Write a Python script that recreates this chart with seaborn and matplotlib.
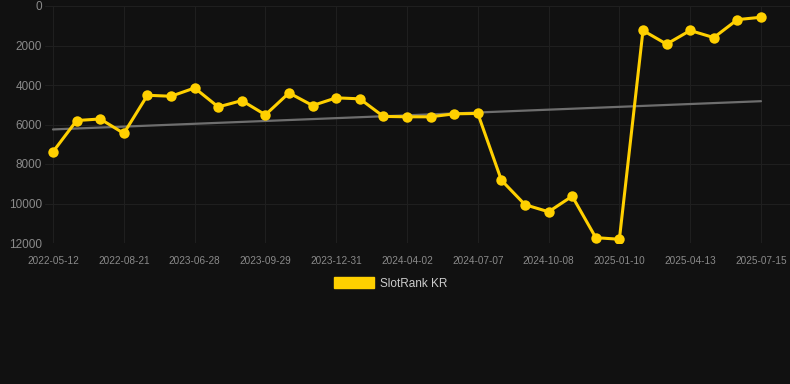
import numpy as np
import pandas as pd
import seaborn as sns
import matplotlib.pyplot as plt
from matplotlib.patches import Patch

# -------------------------------
# Data
# -------------------------------
rank_values = [7380, 5800, 5720, 6450, 4520, 4570, 4150, 5110, 4790, 5510,
               4400, 5040, 4650, 4700, 5590, 5610, 5610, 5460, 5440, 8820,
               10060, 10420, 9630, 11730, 11810, 1240, 1930, 1240, 1600, 690,
               570]
tick_labels = ["2022-05-12", "2022-08-21", "2023-06-28", "2023-09-29",
               "2023-12-31", "2024-04-02", "2024-07-07", "2024-10-08",
               "2025-01-10", "2025-04-13", "2025-07-15"]
trend_values = [6250, 4820]
series_name = "SlotRank KR"

df = pd.DataFrame({"idx": np.arange(len(rank_values)), "rank": rank_values})

# -------------------------------
# Style
# -------------------------------
BG = "#111111"
GRID = "#1f1f1f"
YELLOW = "#FFD000"

sns.set_style("dark")
plt.rcParams["font.family"] = ["Liberation Sans", "DejaVu Sans"]

fig = plt.figure(figsize=(7.9, 3.84), dpi=100, facecolor=BG)
ax = fig.add_axes([45 / 790, 1 - 243 / 384, 1 - 45 / 790, (243 - 6) / 384])
ax.set_facecolor(BG)

# trend line
ax.plot([0, len(rank_values) - 1], trend_values, color="#6e6e6e", lw=1.6, zorder=2)

sns.lineplot(data=df, x="idx", y="rank", ax=ax, color=YELLOW, lw=2.2,
             marker="o", markersize=7.5, markeredgewidth=0, zorder=3)

ax.set_ylim(12000, 0)
ax.set_yticks(range(0, 12001, 2000))
ax.set_xlim(-0.34, len(rank_values) - 1 + 1.23)
ax.set_xticks(range(0, len(rank_values), 3))
ax.set_xticklabels(tick_labels)

ax.tick_params(axis="y", labelsize=8.5, colors="#8a8a8a", length=0, pad=2)
ax.tick_params(axis="x", labelsize=7.2, colors="#8a8a8a", length=0, pad=9)
ax.grid(True, color=GRID, lw=0.8)
for s in ax.spines.values():
    s.set_visible(False)
ax.set_xlabel("")
ax.set_ylabel("")

handle = Patch(facecolor=YELLOW, edgecolor=YELLOW)
fig.legend([handle], [series_name], loc="center", bbox_to_anchor=(0.495, 1 - 283.5 / 384),
           frameon=False, fontsize=8.5, labelcolor="#cccccc",
           handlelength=3.4, handleheight=0.95, handletextpad=0.5)

fig.savefig("out.png", dpi=100, facecolor=BG)
